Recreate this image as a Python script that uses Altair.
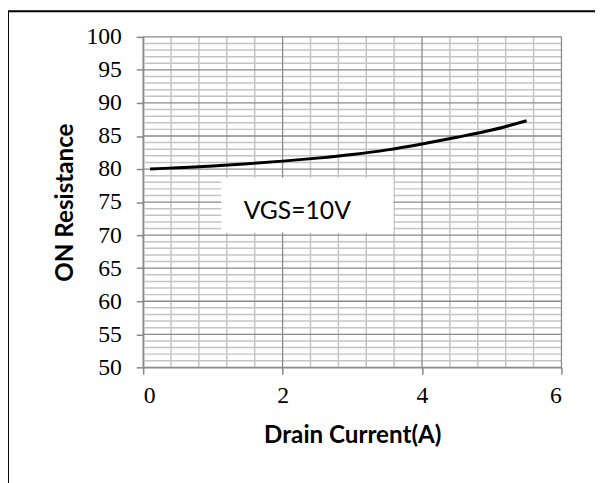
import altair as alt
import pandas as pd

# Data
current = [0.1, 0.5, 1.0, 1.5, 2.0, 2.5, 3.0, 3.5, 4.0, 4.5, 5.0, 5.5]
resistance = [80.0, 80.2, 80.45, 80.8, 81.2, 81.65, 82.2, 82.9, 83.8, 84.8, 85.9, 87.3]

x_ticks = [0, 2, 4, 6]
y_ticks = [50, 55, 60, 65, 70, 75, 80, 85, 90, 95, 100]
x_minor = [0.4, 0.8, 1.2, 1.6, 2.4, 2.8, 3.2, 3.6, 4.4, 4.8, 5.2, 5.6]
y_minor = [51, 52, 53, 54, 56, 57, 58, 59, 61, 62, 63, 64, 66, 67, 68, 69,
           71, 72, 73, 74, 76, 77, 78, 79, 81, 82, 83, 84, 86, 87, 88, 89,
           91, 92, 93, 94, 96, 97, 98, 99]

label_text = ["VGS=10V"]
box_x = [1.12]
box_x2 = [3.59]
box_y = [78.7]
box_y2 = [70.4]
label_x = [2.21]
label_y = [72.4]

W, H = 424, 335

xs = alt.Scale(domain=[0, 6], nice=False, zero=False)
ys = alt.Scale(domain=[50, 100], nice=False, zero=False)

df = pd.DataFrame({"x": current, "y": resistance})

x_axis = alt.Axis(values=x_ticks, grid=False, domainColor="#868686", domainWidth=1.5,
                  tickColor="#868686", tickWidth=1.5, tickSize=7,
                  labelFont="Liberation Serif", labelFontSize=24, labelColor="black",
                  labelPadding=10, title="Drain Current(A)", titleFont="Lato",
                  titleFontSize=24.5, titleFontWeight="bold", titleColor="black",
                  titleBaseline="alphabetic", titleY=76, titleX=W / 2)
y_axis = alt.Axis(values=y_ticks, grid=False, domainColor="#868686", domainWidth=1.5,
                  tickColor="#868686", tickWidth=1.5, tickSize=7,
                  labelFont="Liberation Serif", labelFontSize=24, labelColor="black",
                  labelPadding=15, title="ON Resistance", titleFont="Lato",
                  titleFontSize=24.5, titleFontWeight="bold", titleColor="black",
                  titleBaseline="alphabetic", titleX=-72, titleY=H / 2, titleAngle=270)


def X(field="x"):
    return alt.X(f"{field}:Q", scale=xs, axis=x_axis, title="Drain Current(A)")


def Y(field="y"):
    return alt.Y(f"{field}:Q", scale=ys, axis=y_axis, title="ON Resistance")


minor_v = alt.Chart(pd.DataFrame({"x": x_minor})).mark_rule(
    color="#c4c4c4", strokeWidth=1.5).encode(x=X())
minor_h = alt.Chart(pd.DataFrame({"y": y_minor})).mark_rule(
    color="#c4c4c4", strokeWidth=1.5).encode(y=Y())
major_v = alt.Chart(pd.DataFrame({"x": x_ticks})).mark_rule(
    color="#8a8a8a", strokeWidth=1.3).encode(x=X())
major_h = alt.Chart(pd.DataFrame({"y": y_ticks})).mark_rule(
    color="#8a8a8a", strokeWidth=1.3).encode(y=Y())

box = alt.Chart(pd.DataFrame({"x": box_x, "x2": box_x2, "y": box_y, "y2": box_y2})).mark_rect(
    fill="white").encode(x=X(), x2="x2:Q", y=Y(), y2="y2:Q")
txt = alt.Chart(pd.DataFrame({"x": label_x, "y": label_y, "t": label_text})).mark_text(
    font="Lato", fontSize=25, color="black", align="center", baseline="alphabetic").encode(
    x=X(), y=Y(), text="t:N")

line = alt.Chart(df).mark_line(color="black", strokeWidth=3, interpolate="monotone").encode(
    x=X(), y=Y())

one = alt.Data(values=[{"a": 1}])
border_left = alt.Chart(one).mark_rule(color="black", strokeWidth=2).encode(
    x=alt.value(-137), y=alt.value(-26), y2=alt.value(460))
border_top = alt.Chart(one).mark_rule(color="black", strokeWidth=2).encode(
    x=alt.value(-138), x2=alt.value(470), y=alt.value(-26))

chart = alt.layer(minor_v, minor_h, major_v, major_h, box, txt, line,
                  border_left, border_top).properties(
    width=W, height=H,
    autosize=alt.AutoSizeParams(type="none"),
    padding={"left": 137, "top": 26, "right": 34, "bottom": 114},
    background="white",
).configure_view(strokeWidth=0)

chart.save("out.html", embed_options={"renderer": "svg", "actions": False})
